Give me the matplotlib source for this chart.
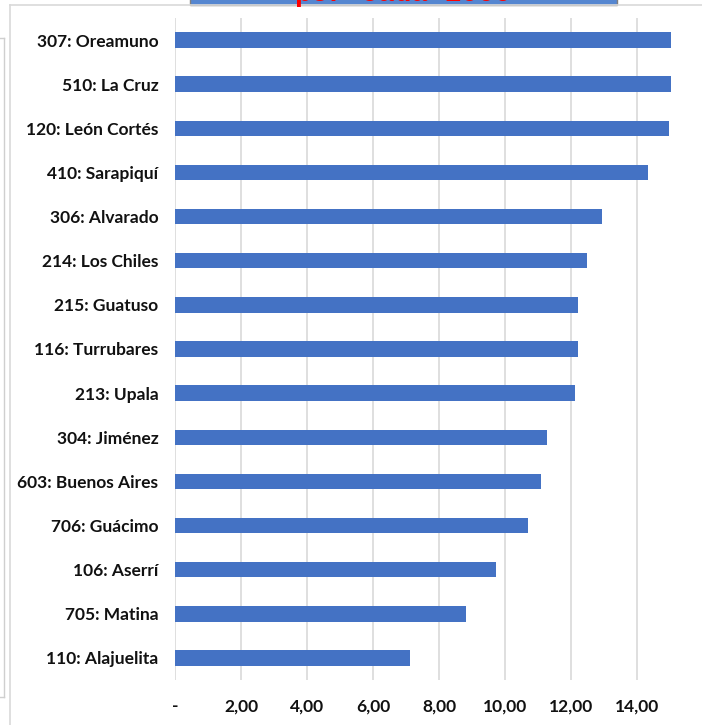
import matplotlib
matplotlib.use("Agg")
import matplotlib.pyplot as plt
from matplotlib.lines import Line2D
from matplotlib.patches import Rectangle

W, H = 702, 725

# datos: tasa por cada 1000
cantones = ['307: Oreamuno', '510: La Cruz', '120: León Cortés', '410: Sarapiquí',
            '306: Alvarado', '214: Los Chiles', '215: Guatuso', '116: Turrubares',
            '213: Upala', '304: Jiménez', '603: Buenos Aires', '706: Guácimo',
            '106: Aserrí', '705: Matina', '110: Alajuelita']
tasas = [15.03, 15.03, 14.97, 14.33, 12.93, 12.49, 12.20, 12.20,
         12.12, 11.26, 11.08, 10.71, 9.72, 8.82, 7.13]
ticks = [0, 2, 4, 6, 8, 10, 12, 14]
tick_labels = ['-', '2,00', '4,00', '6,00', '8,00', '10,00', '12,00', '14,00']

plt.rcParams['font.family'] = ['Lato', 'DejaVu Sans']


def px(x, y):
    # pixeles (desde arriba a la izquierda) -> coordenadas de figura
    return x / W, 1 - y / H


fig = plt.figure(figsize=(W / 100, H / 100), dpi=100)

# marcos de fondo (recorte de Excel)
gris = '#d9d9d9'
fig.add_artist(Line2D([10 / W, 1], [1 - 5 / H] * 2, color=gris, lw=1.2))
fig.add_artist(Line2D([10 / W] * 2, [0, 1 - 5 / H], color=gris, lw=1.2))
fig.add_artist(Line2D([4 / W] * 2, [1 - 697 / H, 1 - 38 / H], color='#cfcfcf', lw=1))
fig.add_artist(Line2D([0, 4 / W], [1 - 697 / H] * 2, color='#cfcfcf', lw=1))
fig.add_artist(Line2D([0, 4 / W], [1 - 38 / H] * 2, color='#cfcfcf', lw=1))

# caja del titulo cortada
x0, y0 = px(190, 5)
fig.add_artist(Rectangle((x0, y0), (617 - 190) / W, 20 / H, facecolor='#5586d0',
                         edgecolor='#7f7f7f', lw=1, transform=fig.transFigure))
fig.text(403 / W, 1 - 1 / H, 'por cada 1000', color='red', fontsize=20,
         fontweight='bold', family=['Liberation Mono', 'DejaVu Sans Mono'],
         ha='center', va='baseline')

l, b = px(175, 680)
r, t = px(702, 18)
ax = fig.add_axes([l, b, r - l, t - b])

pos = list(range(len(cantones)))
ax.barh(pos, tasas, height=0.35, color='#4472c4', zorder=3)
ax.set_ylim(len(cantones) - 0.5, -0.5)
ax.set_xlim(0, (702 - 175) / 33)
ax.set_yticks(pos)
ax.set_yticklabels(cantones, fontsize=12.5, fontweight='bold', color='#111111')
ax.set_xticks(ticks)
ax.set_xticklabels(tick_labels, fontsize=12.5, fontweight='bold', color='#111111')
ax.tick_params(axis='y', length=0, pad=12)
ax.tick_params(axis='x', length=0, pad=13)
ax.grid(axis='x', color=gris, lw=1.2, zorder=0)
for s in ax.spines.values():
    s.set_visible(False)

fig.savefig('out.png', dpi=100)
